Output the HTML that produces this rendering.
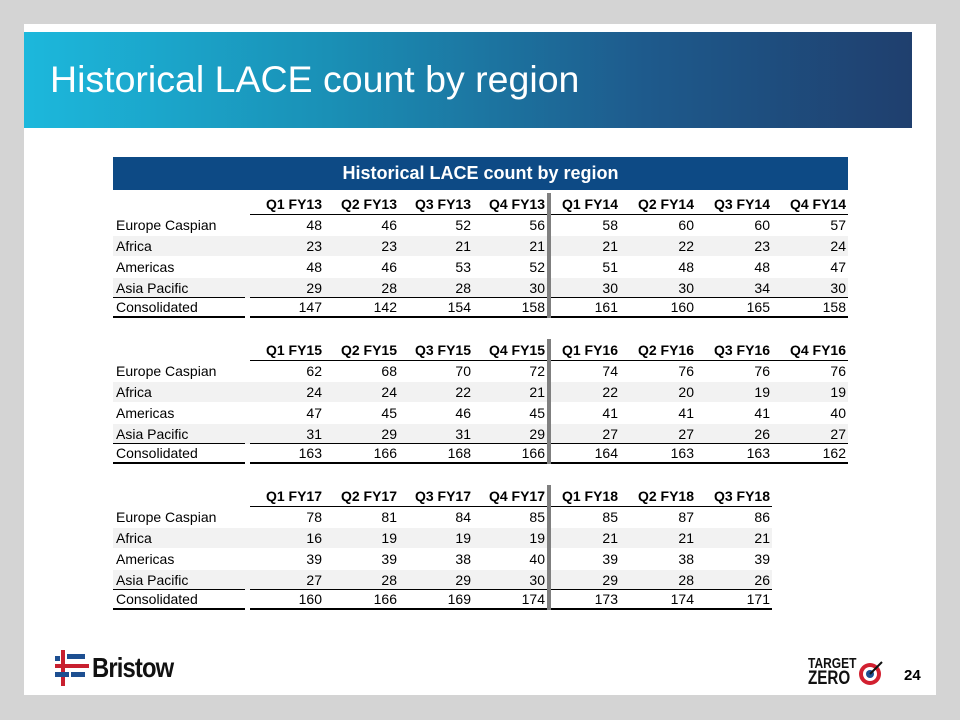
<!DOCTYPE html>
<html><head><meta charset="utf-8">
<style>
body{margin:0;width:960px;height:720px;background:#d4d4d4;position:relative;overflow:hidden;font-family:"Liberation Sans",Arial,sans-serif;}
#slide{position:absolute;left:24px;top:24px;width:912px;height:671px;background:#fff;}
#band{position:absolute;left:24px;top:32px;width:888px;height:96px;background:linear-gradient(90deg,#1cb8dc 0%,#1a8fb5 35%,#1e5a8c 70%,#1f3f6e 100%);}
#title{position:absolute;left:50px;top:57px;color:#fff;font-size:37.5px;line-height:44px;}
#tbar{position:absolute;left:113px;top:157px;width:735px;height:33px;background:#0d4a85;color:#fff;font-weight:bold;font-size:18px;line-height:33px;text-align:center;}
.c{position:absolute;font-size:14px;line-height:20px;height:20px;color:#000;white-space:nowrap;}
.r{text-align:right;}
.h{font-weight:bold;}
.shade{position:absolute;background:#f2f2f2;height:20px;}
.ln{position:absolute;background:#000;}
.sep{position:absolute;background:#7f7f7f;width:4px;}
#bristow{position:absolute;left:55px;top:650px;}
#bristow-text{position:absolute;left:92px;top:652px;font-size:28px;font-weight:bold;color:#111;transform:scaleX(0.85);transform-origin:left;letter-spacing:-1px;}
#tz{position:absolute;left:808px;top:656px;font-size:15px;line-height:15px;font-weight:bold;color:#111;transform:scaleX(0.8);transform-origin:left;}
#pg{position:absolute;left:904px;top:667px;font-size:15px;font-weight:bold;}
</style></head><body>
<div id="slide"></div>
<div id="band"></div>
<div id="title">Historical LACE count by region</div>
<div id="tbar">Historical LACE count by region</div>
<div id="tables"></div>
<svg id="bristow" width="34" height="36">
<rect x="6" y="0" width="4" height="36" fill="#c8202f"/><rect x="0" y="14" width="34" height="4" fill="#c8202f"/>
<rect x="12" y="4" width="18" height="5" fill="#1d4f91"/><rect x="0" y="22" width="14" height="5" fill="#1d4f91"/><rect x="16" y="22" width="14" height="5" fill="#1d4f91"/><rect x="0" y="6" width="5" height="5" fill="#1d4f91"/></svg>
<div id="bristow-text">Bristow</div>
<div id="tz">TARGET<br><span style="font-size:19px">ZERO</span></div>
<svg style="position:absolute;left:858px;top:660px" width="26" height="26"><circle cx="12" cy="14" r="11" fill="#d22030"/><circle cx="12" cy="14" r="7" fill="#fff"/><circle cx="12" cy="14" r="4" fill="#1d4f91"/><path d="M12 14 L24 2" stroke="#111" stroke-width="2"/></svg>
<div id="pg">24</div>
<script>
const regions=["Europe Caspian","Africa","Americas","Asia Pacific","Consolidated"];
const headers1=["Q1 FY13","Q2 FY13","Q3 FY13","Q4 FY13","Q1 FY14","Q2 FY14","Q3 FY14","Q4 FY14"];
const values1=[[48,46,52,56,58,60,60,57],[23,23,21,21,21,22,23,24],[48,46,53,52,51,48,48,47],[29,28,28,30,30,30,34,30],[147,142,154,158,161,160,165,158]];
const headers2=["Q1 FY15","Q2 FY15","Q3 FY15","Q4 FY15","Q1 FY16","Q2 FY16","Q3 FY16","Q4 FY16"];
const values2=[[62,68,70,72,74,76,76,76],[24,24,22,21,22,20,19,19],[47,45,46,45,41,41,41,40],[31,29,31,29,27,27,26,27],[163,166,168,166,164,163,163,162]];
const headers3=["Q1 FY17","Q2 FY17","Q3 FY17","Q4 FY17","Q1 FY18","Q2 FY18","Q3 FY18"];
const values3=[[78,81,84,85,85,87,86],[16,19,19,19,21,21,21],[39,39,38,40,39,38,39],[27,28,29,30,29,28,26],[160,166,169,174,173,174,171]];
const root=document.getElementById('tables');
const colRight=[322,397,471,545,618,694,770,846];
const rowOff=[21,42,63,84,103];
function add(cls,x,y,w,h,txt){const d=document.createElement('div');d.className=cls;d.style.left=x+'px';d.style.top=y+'px';if(w!=null)d.style.width=w+'px';if(h!=null)d.style.height=h+'px';if(txt!=null)d.textContent=txt;root.appendChild(d);return d;}
function table(headers,values,cy,idx){
  const n=headers.length, right=colRight[n-1]+2;
  [1,3].forEach(r=>{const s=add('shade',113,cy+rowOff[r]-10,right-113,20);
    
    });
  headers.forEach((h,i)=>{const d=add('c r h',colRight[i]-70,cy-10,70,null,h);
    
    });
  regions.forEach((r,ri)=>{const d=add('c',116,cy+rowOff[ri]-10,null,null,r);
    
    
    values[ri].forEach((v,ci)=>{const e=add('c r',colRight[ci]-60,cy+rowOff[ri]-10,60,null,String(v));
      
      });});
  const l1=add('ln',250,cy+10,right-250,1);
  
  
  const l2=add('ln',113,cy+93,132,1);
  
  
  const l3=add('ln',250,cy+93,right-250,1);
  
  
  const l4=add('ln',113,cy+112,132,2);
  
  
  const l5=add('ln',250,cy+112,right-250,2);
  
  
  const s=add('sep',547,cy-11,null,125);
  
  
}
table(headers1,values1,204,1);
table(headers2,values2,350,2);
table(headers3,values3,496,3);
</script>
</body></html>
